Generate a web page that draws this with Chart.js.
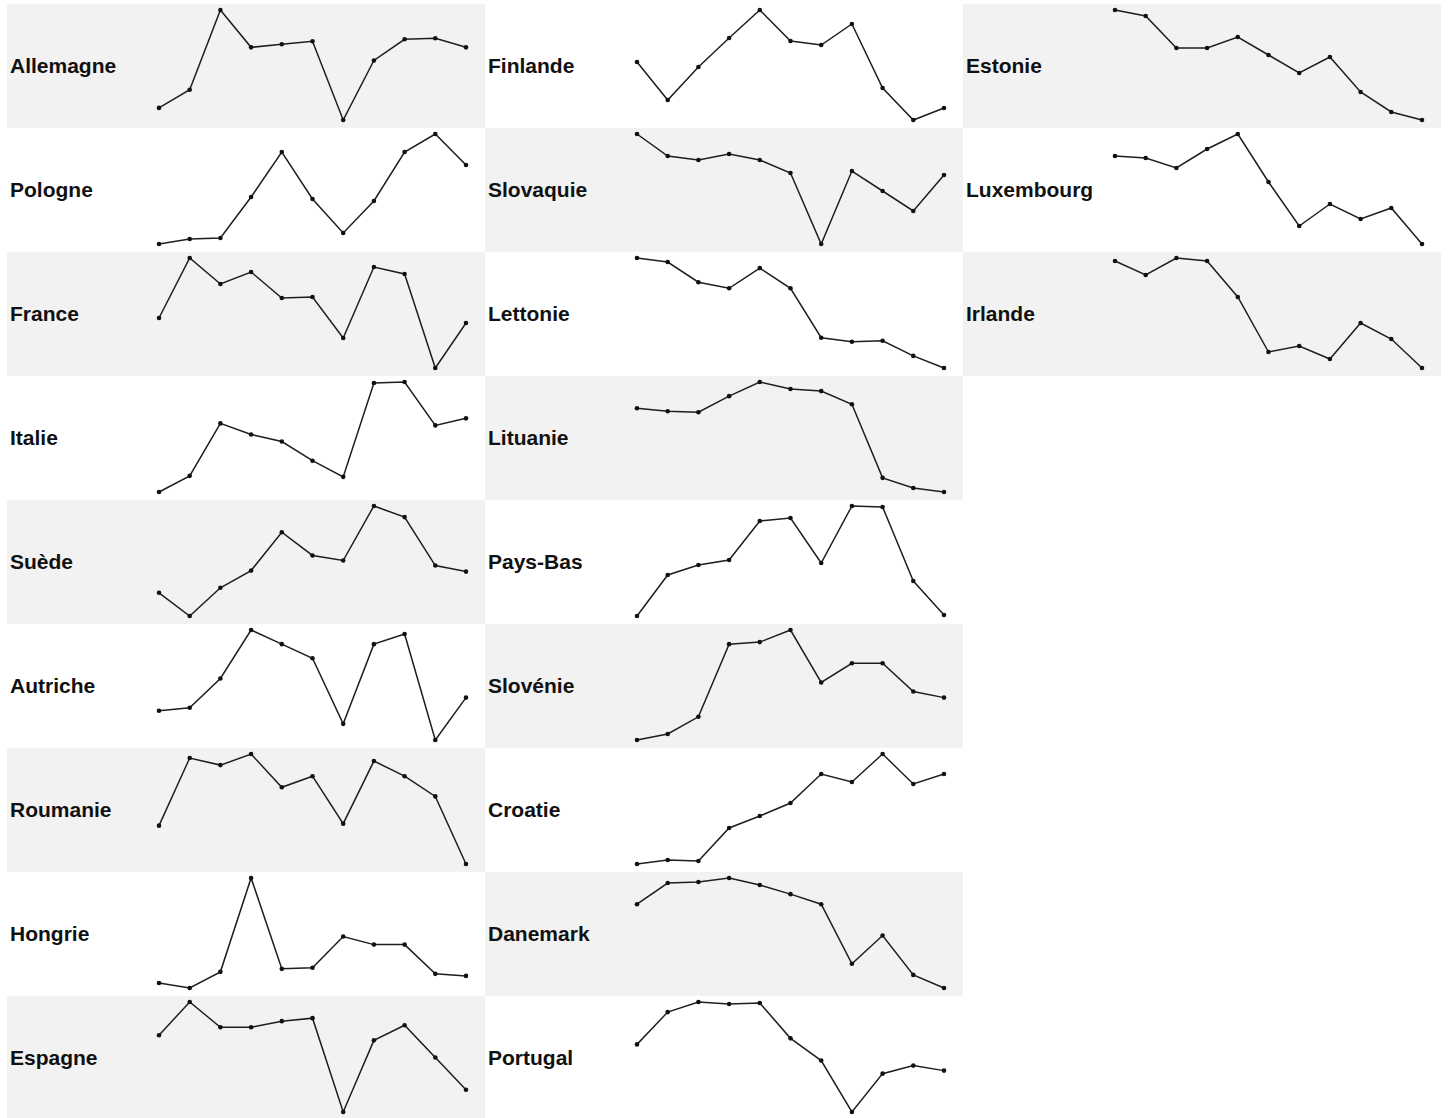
<!DOCTYPE html>
<html lang="fr">
<head>
  <meta charset="UTF-8" />
  <title>Sparklines par pays</title>
  <script src="https://cdn.jsdelivr.net/npm/chart.js"></script>
  <style>
    body {
      margin: 0;
      padding: 4px 0 0 7px;
      background: #ffffff;
      font-family: "Liberation Sans", Arial, sans-serif;
    }
    #grid {
      display: grid;
      grid-template-columns: 478px 478px 478px;
      grid-auto-rows: 124px;
    }
    .cell {
      position: relative;
      overflow: hidden;
    }
    .cell.gray { background: #f2f2f2; }
    .cell .lbl {
      position: absolute;
      left: 3px;
      top: 0;
      line-height: 124px;
      font-weight: bold;
      font-size: 21px;
      color: #111;
    }
    .cell canvas {
      position: absolute;
      left: 142px;
      top: 0;
    }
  </style>
</head>
<body>
  <div id="grid"></div>

  <script>
    // 11 periodes, valeurs relatives
    const periods = ['1', '2', '3', '4', '5', '6', '7', '8', '9', '10', '11'];

    const col1 = ['Allemagne', 'Pologne', 'France', 'Italie', 'Suède', 'Autriche', 'Roumanie', 'Hongrie', 'Espagne'];
    const col2 = ['Finlande', 'Slovaquie', 'Lettonie', 'Lituanie', 'Pays-Bas', 'Slovénie', 'Croatie', 'Danemark', 'Portugal'];
    const col3 = ['Estonie', 'Luxembourg', 'Irlande'];

    const allemagne  = [21, 39, 118, 81, 84, 87, 9, 68, 89, 90, 81];
    const pologne    = [8, 13, 14, 55, 100, 53, 19, 51, 100, 118, 87];
    const france     = [58, 118, 92, 104, 78, 79, 38, 109, 102, 8, 53];
    const italie     = [8, 24, 76, 65, 58, 39, 23, 116, 117, 74, 81];
    const suede      = [31, 8, 36, 53, 91, 68, 63, 117, 106, 58, 52];
    const autriche   = [37, 40, 69, 117, 103, 89, 24, 103, 113, 8, 50];
    const roumanie   = [46, 113, 106, 117, 84, 95, 48, 110, 95, 75, 8];
    const hongrie    = [13, 8, 24, 117, 27, 28, 59, 51, 51, 22, 20];
    const espagne    = [84, 117, 92, 92, 98, 101, 8, 79, 94, 62, 30];

    const finlande   = [66, 28, 61, 90, 118, 87, 83, 104, 40, 8, 20];
    const slovaquie  = [118, 96, 92, 98, 92, 79, 8, 81, 61, 41, 77];
    const lettonie   = [117, 113, 93, 87, 107, 87, 38, 34, 35, 20, 8];
    const lituanie   = [91, 88, 87, 103, 117, 110, 108, 95, 22, 12, 8];
    const paysbas    = [8, 49, 59, 64, 103, 106, 61, 118, 117, 43, 9];
    const slovenie   = [8, 14, 31, 103, 105, 117, 65, 84, 84, 56, 50];
    const croatie    = [8, 12, 11, 44, 56, 69, 98, 90, 118, 88, 98];
    const danemark   = [91, 112, 113, 117, 110, 101, 91, 32, 60, 21, 8];
    const portugal   = [75, 107, 117, 115, 116, 81, 59, 8, 46, 54, 49];

    const estonie    = [118, 112, 80, 80, 91, 73, 55, 71, 36, 16, 8];
    const luxembourg = [96, 94, 84, 103, 118, 70, 26, 48, 33, 44, 8];
    const irlande    = [115, 101, 118, 115, 79, 24, 30, 17, 53, 37, 8];

    const series = {
      'Allemagne': allemagne, 'Pologne': pologne, 'France': france, 'Italie': italie,
      'Suède': suede, 'Autriche': autriche, 'Roumanie': roumanie, 'Hongrie': hongrie,
      'Espagne': espagne, 'Finlande': finlande, 'Slovaquie': slovaquie, 'Lettonie': lettonie,
      'Lituanie': lituanie, 'Pays-Bas': paysbas, 'Slovénie': slovenie, 'Croatie': croatie,
      'Danemark': danemark, 'Portugal': portugal, 'Estonie': estonie,
      'Luxembourg': luxembourg, 'Irlande': irlande
    };

    const grid = document.getElementById('grid');

    function addCell(name, row, col) {
      const cell = document.createElement('div');
      cell.className = 'cell' + ((row + col) % 2 === 0 ? ' gray' : '');
      cell.style.gridRow = row + 1;
      cell.style.gridColumn = col + 1;

      const lbl = document.createElement('div');
      lbl.className = 'lbl';
      lbl.textContent = name;
      cell.appendChild(lbl);

      const cv = document.createElement('canvas');
      cv.width = 327;
      cv.height = 124;
      cv.style.width = '327px';
      cv.style.height = '124px';
      cell.appendChild(cv);
      grid.appendChild(cell);

      const vals = series[name];
      new Chart(cv.getContext('2d'), {
        type: 'line',
        data: {
          labels: periods,
          datasets: [{
            data: vals,
            borderColor: '#1e1e1e',
            borderWidth: 1.5,
            tension: 0,
            pointRadius: 2.3,
            pointBackgroundColor: '#111',
            pointBorderColor: '#111',
            pointBorderWidth: 0,
            clip: false
          }]
        },
        options: {
          responsive: false,
          animation: false,
          events: [],
          layout: { padding: { left: 10, right: 10, top: 6, bottom: 8 } },
          plugins: { legend: { display: false }, tooltip: { enabled: false } },
          scales: {
            x: { display: false, offset: false },
            y: { display: false, min: Math.min(...vals), max: Math.max(...vals) }
          }
        }
      });
    }

    col1.forEach((n, i) => addCell(n, i, 0));
    col2.forEach((n, i) => addCell(n, i, 1));
    col3.forEach((n, i) => addCell(n, i, 2));
  </script>
</body>
</html>
